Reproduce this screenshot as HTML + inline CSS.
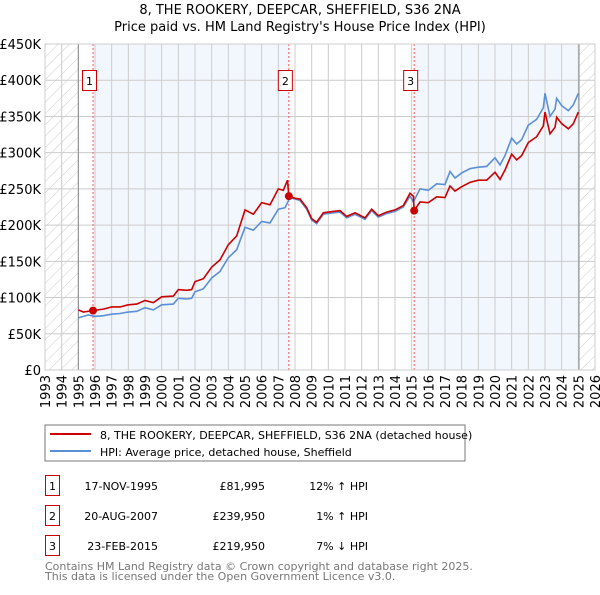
<!DOCTYPE html>
<html><head><meta charset="utf-8"><style>
body{margin:0;background:#fff;font-family:"Liberation Sans","DejaVu Sans",sans-serif}
svg text{font-family:"DejaVu Sans","Liberation Sans",sans-serif}
</style></head><body>
<svg id="c" width="600" height="590" xmlns="http://www.w3.org/2000/svg">
<defs><pattern id="hatch" width="8" height="8" patternUnits="userSpaceOnUse" patternTransform="rotate(45)"><line x1="0" y1="0" x2="0" y2="8" stroke="#ccc" stroke-width="1"/></pattern></defs>
<text x="300" y="14" text-anchor="middle" font-size="13">8, THE ROOKERY, DEEPCAR, SHEFFIELD, S36 2NA</text>
<text x="300" y="31" text-anchor="middle" font-size="13">Price paid vs. HM Land Registry's House Price Index (HPI)</text>
<g id="plot"></g>
<rect x="45" y="425" width="420" height="36" fill="#fff" stroke="#777"/>
<line x1="50" y1="434" x2="91" y2="434" stroke="#cc0000" stroke-width="2"/>
<text x="100" y="439" font-size="11">8, THE ROOKERY, DEEPCAR, SHEFFIELD, S36 2NA (detached house)</text>
<line x1="50" y1="451" x2="91" y2="451" stroke="#5b8fd4" stroke-width="2"/>
<text x="100" y="456" font-size="11">HPI: Average price, detached house, Sheffield</text>
<g font-size="11">
<rect x="45.5" y="475.5" width="14" height="20" fill="none" stroke="#cc0000"/><text x="52.5" y="490" text-anchor="middle">1</text>
<text x="158" y="490" text-anchor="end">17-NOV-1995</text><text x="265" y="490" text-anchor="end">£81,995</text><text x="368" y="490" text-anchor="end">12% ↑ HPI</text>
<rect x="45.5" y="505.5" width="14" height="20" fill="none" stroke="#cc0000"/><text x="52.5" y="520" text-anchor="middle">2</text>
<text x="158" y="520" text-anchor="end">20-AUG-2007</text><text x="265" y="520" text-anchor="end">£239,950</text><text x="368" y="520" text-anchor="end">1% ↑ HPI</text>
<rect x="45.5" y="535.5" width="14" height="20" fill="none" stroke="#cc0000"/><text x="52.5" y="550" text-anchor="middle">3</text>
<text x="158" y="550" text-anchor="end">23-FEB-2015</text><text x="265" y="550" text-anchor="end">£219,950</text><text x="368" y="550" text-anchor="end">7% ↓ HPI</text>
</g>
<text x="45" y="570" font-size="11" fill="#777">Contains HM Land Registry data © Crown copyright and database right 2025.</text>
<text x="45" y="580" font-size="11" fill="#777">This data is licensed under the Open Government Licence v3.0.</text>
</svg>
<script>
const yTicks=[0,50,100,150,200,250,300,350,400,450];
const yTickLabels=["£0","£50K","£100K","£150K","£200K","£250K","£300K","£350K","£400K","£450K"];
const years=[1993,1994,1995,1996,1997,1998,1999,2000,2001,2002,2003,2004,2005,2006,2007,2008,2009,2010,2011,2012,2013,2014,2015,2016,2017,2018,2019,2020,2021,2022,2023,2024,2025,2026];
const hpiDates=[1995.0,1995.3,1995.6,1996.0,1996.5,1997.0,1997.5,1998.0,1998.5,1999.0,1999.5,2000.0,2000.7,2001.0,2001.5,2001.8,2002.0,2002.5,2003.0,2003.5,2004.0,2004.5,2005.0,2005.5,2006.0,2006.5,2007.0,2007.4,2007.7,2008.0,2008.3,2008.7,2009.0,2009.3,2009.7,2010.0,2010.7,2011.1,2011.6,2012.2,2012.6,2013.0,2013.5,2014.0,2014.5,2014.9,2015.1,2015.5,2016.0,2016.5,2017.0,2017.3,2017.6,2018.0,2018.5,2019.0,2019.5,2020.0,2020.3,2020.6,2021.0,2021.3,2021.6,2022.0,2022.5,2022.9,2023.0,2023.3,2023.6,2023.7,2024.0,2024.4,2024.7,2025.0];
const hpiValues=[72,74,76,74,75,77,78,80,81,86,83,90,91,99,98,99,108,112,127,136,155,166,197,193,205,203,222,224,238,236,234,222,207,202,215,216,218,210,215,208,220,211,216,219,225,240,232,250,248,257,256,274,265,272,278,280,281,293,283,296,320,312,318,338,346,362,382,350,360,375,365,358,366,382];
const propDates=[1995.0,1995.3,1995.88,1996.5,1997.0,1997.5,1998.0,1998.5,1999.0,1999.5,2000.0,2000.7,2001.0,2001.5,2001.8,2002.0,2002.5,2003.0,2003.5,2004.0,2004.5,2005.0,2005.5,2006.0,2006.5,2007.0,2007.3,2007.55,2007.63,2008.0,2008.3,2008.7,2009.0,2009.3,2009.7,2010.0,2010.7,2011.1,2011.6,2012.2,2012.6,2013.0,2013.5,2014.0,2014.5,2014.9,2015.1,2015.15,2015.5,2016.0,2016.5,2017.0,2017.3,2017.6,2018.0,2018.5,2019.0,2019.5,2020.0,2020.3,2020.6,2021.0,2021.3,2021.6,2022.0,2022.5,2022.9,2023.0,2023.3,2023.6,2023.7,2024.0,2024.4,2024.7,2025.0];
const propValues=[83,80,82,84,87,87,90,91,96,93,101,102,111,110,111,122,126,142,152,173,185,221,215,231,228,250,248,262,240,237,236,224,209,204,217,218,220,212,217,210,222,213,218,221,227,244,240,220,232,231,239,238,254,247,253,259,262,262,273,263,276,298,290,296,314,322,337,356,326,335,349,340,333,340,356];
const saleDates=[1995.88,2007.63,2015.15];
const saleValues=[81.995,239.95,219.95];
const saleLabels=["1","2","3"];

const L=45,R=595,T=44,B=370;
const x=d=>L+(d-1993)/33*(R-L);
const y=v=>B-v/450*(B-T);
const NS="http://www.w3.org/2000/svg";
const g=document.getElementById('plot');
function mk(tag,attrs,parent){const e=document.createElementNS(NS,tag);for(const k in attrs)e.setAttribute(k,attrs[k]);(parent||g).appendChild(e);return e;}

let e;
e=mk('rect',{x:L,y:T,width:R-L,height:B-T,fill:'#fff'});


e=mk('rect',{x:x(saleDates[0]),y:T,width:x(saleDates[1])-x(saleDates[0]),height:B-T,fill:'#f2f6fd'});


e=mk('rect',{x:x(saleDates[2]),y:T,width:x(2025.04)-x(saleDates[2]),height:B-T,fill:'#f2f6fd'});


e=mk('rect',{x:L,y:T,width:x(1995)-L,height:B-T,fill:'url(#hatch)'});


e=mk('rect',{x:x(2025.04),y:T,width:R-x(2025.04),height:B-T,fill:'url(#hatch)'});



yTicks.forEach((v,i)=>{
  e=mk('line',{x1:L,x2:R,y1:y(v),y2:y(v),stroke:'#ccc'});
  
  
  e=mk('text',{x:L-4,y:y(v)+5,'text-anchor':'end','font-size':13});
  e.textContent=yTickLabels[i];
  
  
});
years.forEach(yr=>{
  e=mk('line',{x1:x(yr),x2:x(yr),y1:T,y2:B,stroke:'#ccc'});
  
  
  e=mk('text',{x:0,y:0,'text-anchor':'end','font-size':13,transform:`translate(${x(yr)+5},${B+5}) rotate(-90)`});
  e.textContent=yr;
  
  
});
e=mk('line',{x1:x(1995),x2:x(1995),y1:T,y2:B,stroke:'#888'});


e=mk('line',{x1:x(2025.04),x2:x(2025.04),y1:T,y2:B,stroke:'#888'});



saleDates.forEach((d,i)=>{
  e=mk('line',{x1:x(d),x2:x(d),y1:T,y2:B,stroke:'#f55','stroke-dasharray':'2,2'});
  
  
});

e=mk('polyline',{points:hpiDates.map((d,i)=>x(d)+','+y(hpiValues[i])).join(' '),fill:'none',stroke:'#5b8fd4','stroke-width':1.6});


e=mk('polyline',{points:propDates.map((d,i)=>x(d)+','+y(propValues[i])).join(' '),fill:'none',stroke:'#cc0000','stroke-width':1.6});



saleDates.forEach((d,i)=>{
  e=mk('circle',{cx:x(d),cy:y(saleValues[i]),r:4,fill:'#cc0000'});
  
  
  e=mk('rect',{x:x(d)-10.5,y:70.5,width:14,height:20,fill:'#fff',stroke:'#cc0000'});
  
  
  e=mk('text',{x:x(d)-3.5,y:85,'text-anchor':'middle','font-size':11});
  e.textContent=saleLabels[i];
  
  
});
e=mk('rect',{x:L,y:T,width:R-L,height:B-T,fill:'none',stroke:'#ccc'});


</script>
</body></html>
